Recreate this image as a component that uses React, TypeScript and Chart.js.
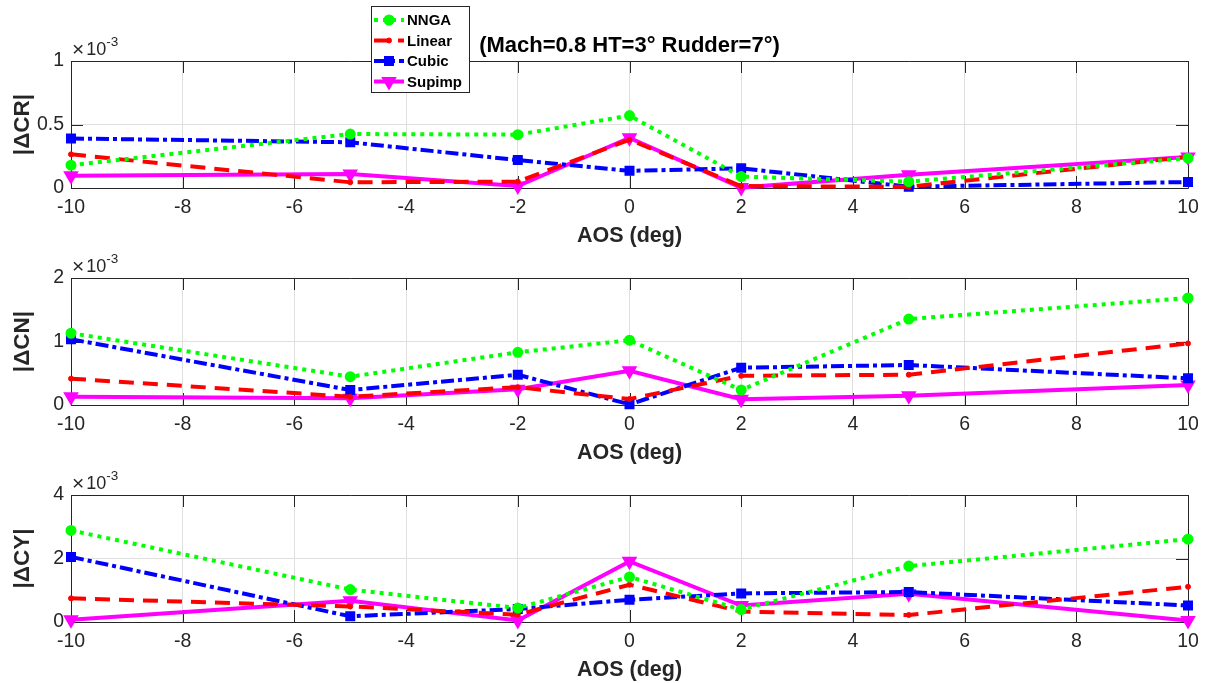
import React, { useEffect, useRef } from "react";
import { Chart, registerables } from "chart.js";
import { drawPoint } from "chart.js/helpers";

Chart.register(...registerables);

// ---------------- data ----------------
const AOS = [-10, -5, -2, 0, 2, 5, 10];

const CR_NNGA = [0.18e-3, 0.425e-3, 0.42e-3, 0.57e-3, 0.09e-3, 0.05e-3, 0.235e-3];
const CR_LINEAR = [0.265e-3, 0.045e-3, 0.05e-3, 0.38e-3, 0.015e-3, 0.01e-3, 0.245e-3];
const CR_CUBIC = [0.39e-3, 0.36e-3, 0.22e-3, 0.135e-3, 0.155e-3, 0.01e-3, 0.047e-3];
const CR_SUPIMP = [0.097e-3, 0.11e-3, 0.016e-3, 0.395e-3, 0.003e-3, 0.105e-3, 0.245e-3];

const CN_NNGA = [1.13e-3, 0.446e-3, 0.83e-3, 1.02e-3, 0.236e-3, 1.354e-3, 1.685e-3];
const CN_LINEAR = [0.415e-3, 0.13e-3, 0.28e-3, 0.094e-3, 0.46e-3, 0.477e-3, 0.97e-3];
const CN_CUBIC = [1.035e-3, 0.236e-3, 0.477e-3, 0.01e-3, 0.587e-3, 0.63e-3, 0.42e-3];
const CN_SUPIMP = [0.13e-3, 0.105e-3, 0.247e-3, 0.54e-3, 0.09e-3, 0.147e-3, 0.315e-3];

const CY_NNGA = [2.885e-3, 1.02e-3, 0.44e-3, 1.42e-3, 0.39e-3, 1.76e-3, 2.61e-3];
const CY_LINEAR = [0.745e-3, 0.49e-3, 0.23e-3, 1.175e-3, 0.33e-3, 0.22e-3, 1.11e-3];
const CY_CUBIC = [2.05e-3, 0.18e-3, 0.41e-3, 0.7e-3, 0.9e-3, 0.945e-3, 0.52e-3];
const CY_SUPIMP = [0.07e-3, 0.67e-3, 0.05e-3, 1.91e-3, 0.52e-3, 0.89e-3, 0.05e-3];

const SERIES_NAMES = ["NNGA", "Linear", "Cubic", "Supimp"];
const PANEL_DATA = [
  [CR_NNGA, CR_LINEAR, CR_CUBIC, CR_SUPIMP],
  [CN_NNGA, CN_LINEAR, CN_CUBIC, CN_SUPIMP],
  [CY_NNGA, CY_LINEAR, CY_CUBIC, CY_SUPIMP],
];
const Y_LABELS = ["|\u0394CR|", "|\u0394CN|", "|\u0394CY|"];
const Y_MAX = [1e-3, 2e-3, 4e-3];
const Y_STEP = [0.5e-3, 1e-3, 2e-3];
const X_MIN = -10;
const X_MAX = 10;
const X_STEP = 2;
const X_LABEL = "AOS (deg)";
const TITLE = "(Mach=0.8 HT=3\u00b0 Rudder=7\u00b0)";
const EXP_TIMES = "\u00d7";
const EXP_BASE = "10";
const EXP_POWER = "-3";

// ---------------- styles ----------------
const FONT = "'Liberation Sans', Arial, Helvetica, sans-serif";
const AXIS_COLOR = "#262626";
const GRID_COLOR = "#dfdfdf";

const STYLES = [
  { color: "#00ff00", dash: [4, 5], width: 4, pointStyle: "circle", radius: 4.5, pBorder: 2, rotation: 0 },
  { color: "#ff0000", dash: [15, 9], width: 4, pointStyle: "circle", radius: 2.5, pBorder: 1, rotation: 0 },
  { color: "#0000ff", dash: [13, 4, 4, 4], width: 4, pointStyle: "rect", radius: 6, pBorder: 1.5, rotation: 0 },
  { color: "#ff00ff", dash: [], width: 4, pointStyle: "triangle", radius: 7.5, pBorder: 1.5, rotation: 180 },
];

const PLOT_TOP_SPACE = 61;
const PLOT_HEIGHT = 127;
const XAXIS_HEIGHT = 62;
const CANVAS_W = 1207;
const CANVAS_H = PLOT_TOP_SPACE + PLOT_HEIGHT + XAXIS_HEIGHT;
const PANEL_TOPS = [0, 217, 434];
const TICK_LEN = 12;
const TITLE_SIZE = 22;

const boxPlugin = {
  id: "matlabBox",
  beforeDatasetsDraw(chart: any) {
    const { ctx, chartArea } = chart;
    const { left, right, top, bottom } = chartArea;
    const xs = chart.scales.x;
    const ys = chart.scales.y;
    ctx.save();
    ctx.strokeStyle = AXIS_COLOR;
    ctx.lineWidth = 1;
    ctx.setLineDash([]);
    ctx.beginPath();
    ctx.rect(Math.round(left) + 0.5, Math.round(top) + 0.5, Math.round(right - left), Math.round(bottom - top));
    xs.ticks.forEach((t: any) => {
      const px = Math.round(xs.getPixelForValue(t.value)) + 0.5;
      ctx.moveTo(px, top);
      ctx.lineTo(px, top + TICK_LEN);
      ctx.moveTo(px, bottom);
      ctx.lineTo(px, bottom - TICK_LEN);
    });
    ys.ticks.forEach((t: any) => {
      const py = Math.round(ys.getPixelForValue(t.value)) + 0.5;
      ctx.moveTo(left, py);
      ctx.lineTo(left + TICK_LEN, py);
      ctx.moveTo(right, py);
      ctx.lineTo(right - TICK_LEN, py);
    });
    ctx.stroke();
    ctx.restore();
  },
  afterDraw(chart: any) {
    const { ctx, chartArea } = chart;
    ctx.save();
    ctx.fillStyle = AXIS_COLOR;
    ctx.textBaseline = "alphabetic";
    ctx.textAlign = "left";
    const x0 = chartArea.left + 1;
    const y0 = chartArea.top - 6;
    ctx.font = `21px ${FONT}`;
    ctx.fillText(EXP_TIMES, x0, y0 + 1);
    const wt = ctx.measureText(EXP_TIMES).width;
    ctx.font = `18px ${FONT}`;
    ctx.fillText(EXP_BASE, x0 + wt + 2, y0);
    const w = ctx.measureText(EXP_BASE).width;
    ctx.font = `13.5px ${FONT}`;
    ctx.fillText(EXP_POWER, x0 + wt + 2 + w, y0 - 9);
    ctx.restore();
  },
};

const legendPlugin = {
  id: "matlabLegend",
  afterDraw(chart: any) {
    const { ctx } = chart;
    const bx = 371.5, by = 6.5, bw = 98, bh = 86;
    ctx.save();
    ctx.fillStyle = "#ffffff";
    ctx.fillRect(bx, by, bw, bh);
    ctx.strokeStyle = AXIS_COLOR;
    ctx.lineWidth = 1;
    ctx.setLineDash([]);
    ctx.strokeRect(bx, by, bw, bh);
    chart.data.datasets.forEach((ds: any, i: number) => {
      const cy = 20 + i * 20.5;
      ctx.strokeStyle = ds.borderColor;
      ctx.lineWidth = ds.borderWidth;
      ctx.setLineDash(ds.borderDash || []);
      ctx.beginPath();
      ctx.moveTo(374, cy);
      ctx.lineTo(404, cy);
      ctx.stroke();
      ctx.setLineDash([]);
      ctx.fillStyle = ds.pointBackgroundColor;
      ctx.strokeStyle = ds.pointBorderColor;
      ctx.lineWidth = ds.pointBorderWidth;
      drawPoint(ctx, { pointStyle: ds.pointStyle, rotation: ds.pointRotation, radius: ds.pointRadius, borderWidth: ds.pointBorderWidth }, 389, cy);
      ctx.fillStyle = "#000000";
      ctx.font = `bold 15px ${FONT}`;
      ctx.textBaseline = "middle";
      ctx.textAlign = "left";
      ctx.fillText(ds.label, 407, cy + 1);
    });
    ctx.restore();
  },
};

function makeConfig(panel: number): any {
  const withTitle = panel === 0;
  const datasets = SERIES_NAMES.map((name, s) => {
    const st = STYLES[s];
    const vals = PANEL_DATA[panel][s];
    return {
      label: name,
      data: AOS.map((x, i) => ({ x, y: vals[i] })),
      borderColor: st.color,
      backgroundColor: st.color,
      borderWidth: st.width,
      borderDash: st.dash,
      pointStyle: st.pointStyle,
      pointRadius: st.radius,
      pointBorderWidth: st.pBorder,
      pointRotation: st.rotation,
      pointBackgroundColor: st.color,
      pointBorderColor: st.color,
      tension: 0,
      fill: false,
      clip: false,
    };
  });
  return {
    type: "line",
    data: { datasets },
    options: {
      responsive: false,
      maintainAspectRatio: false,
      animation: false,
      devicePixelRatio: 1,
      layout: { padding: { top: withTitle ? 0 : PLOT_TOP_SPACE, right: 19, left: 0, bottom: 0 } },
      plugins: {
        legend: { display: false },
        tooltip: { enabled: false },
        title: withTitle
          ? {
              display: true,
              fullSize: false,
              text: TITLE,
              color: "#000000",
              font: { family: FONT, size: TITLE_SIZE, weight: "bold", lineHeight: 1.2 },
              padding: { top: 33, bottom: PLOT_TOP_SPACE - 33 - TITLE_SIZE * 1.2 },
            }
          : { display: false },
      },
      scales: {
        x: {
          type: "linear",
          min: X_MIN,
          max: X_MAX,
          ticks: {
            stepSize: X_STEP,
            color: AXIS_COLOR,
            padding: 8,
            maxRotation: 0,
            font: { family: FONT, size: 19.5, lineHeight: 1.2 },
          },
          grid: { color: GRID_COLOR, lineWidth: 1, drawTicks: false },
          border: { display: false },
          title: {
            display: true,
            text: X_LABEL,
            color: AXIS_COLOR,
            font: { family: FONT, size: 21.5, weight: "bold", lineHeight: 1.2 },
            padding: { top: 0, bottom: 1 },
          },
          afterFit: (scale: any) => {
            scale.height = XAXIS_HEIGHT;
          },
        },
        y: {
          type: "linear",
          min: 0,
          max: Y_MAX[panel],
          ticks: {
            stepSize: Y_STEP[panel],
            color: AXIS_COLOR,
            padding: 7,
            font: { family: FONT, size: 19.5, lineHeight: 1.2 },
            callback: (v: number) => String(Math.round(v * 1e4) / 10),
          },
          grid: { color: GRID_COLOR, lineWidth: 1, drawTicks: false },
          border: { display: false },
          title: {
            display: true,
            text: Y_LABELS[panel],
            color: AXIS_COLOR,
            font: { family: FONT, size: 22.5, weight: "bold", lineHeight: 1.2 },
            padding: { top: 9, bottom: 0 },
          },
          afterFit: (scale: any) => {
            scale.width = 71;
          },
        },
      },
    },
    plugins: withTitle ? [boxPlugin, legendPlugin] : [boxPlugin],
  };
}

export default function App() {
  const r0 = useRef<HTMLCanvasElement>(null);
  const r1 = useRef<HTMLCanvasElement>(null);
  const r2 = useRef<HTMLCanvasElement>(null);

  useEffect(() => {
    const refs = [r0, r1, r2];
    const charts = refs.map((r, i) => new Chart(r.current as HTMLCanvasElement, makeConfig(i)));
    return () => charts.forEach((c) => c.destroy());
  }, []);

  const refs = [r0, r1, r2];
  return (
    <div style={{ position: "absolute", left: 0, top: 0, width: CANVAS_W, height: 683, background: "#ffffff", overflow: "hidden" }}>
      {refs.map((r, i) => (
        <canvas
          key={i}
          ref={r}
          width={CANVAS_W}
          height={CANVAS_H}
          style={{ position: "absolute", left: 0, top: PANEL_TOPS[i], width: CANVAS_W, height: CANVAS_H }}
        />
      ))}
    </div>
  );
}
